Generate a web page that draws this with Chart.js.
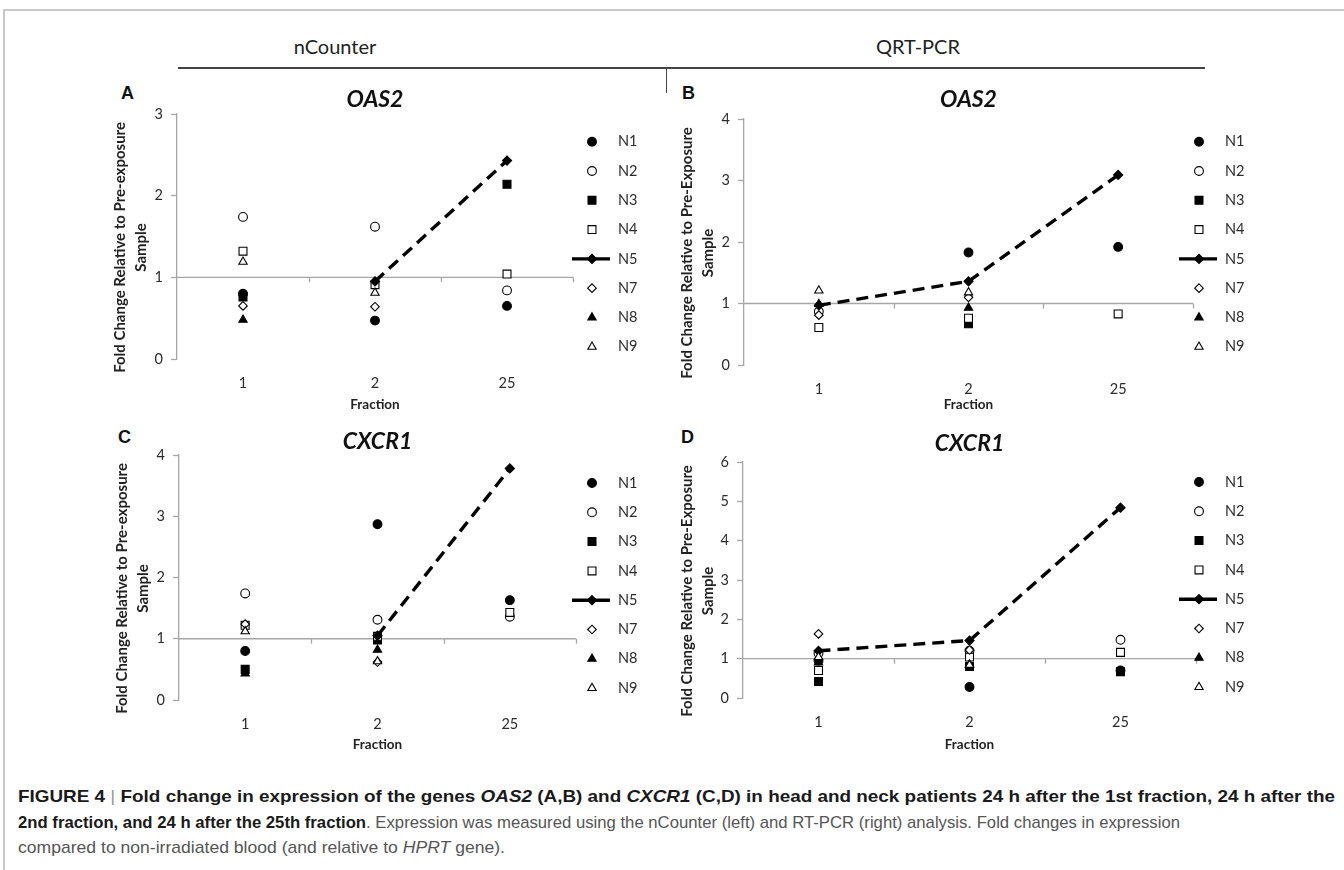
<!DOCTYPE html>
<html>
<head>
<meta charset="UTF-8">
<title>Figure 4 - OAS2 and CXCR1 fold change</title>
<script src="https://cdn.jsdelivr.net/npm/chart.js@4.4.1/dist/chart.umd.min.js"></script>
<style>
  html, body { margin: 0; padding: 0; background: #fff; }
  body { width: 1344px; height: 870px; position: relative; overflow: hidden; font-family: Lato, sans-serif; }
  .frame { position: absolute; left: 3px; top: 9px; width: 1345px; height: 870px; border-top: 2px solid #c8c8c8; border-left: 2px solid #c8c8c8; }
  .head { position: absolute; top: 34px; font-size: 20px; color: #222; transform: translateX(-50%); white-space: nowrap; }
  .rule { position: absolute; left: 178px; top: 67px; width: 1027px; height: 1.5px; background: #444; }
  .stem { position: absolute; left: 666px; top: 68px; width: 1px; height: 25px; background: #444; }
  .letter { position: absolute; font: bold 18px "Liberation Sans", Arial, sans-serif; line-height: 18px; color: #111; }
  canvas { position: absolute; }
  .caption { position: absolute; left: 18px; top: 784px; font-family: "Liberation Sans Narrow", "Liberation Sans", Arial, sans-serif; font-size: 17px; color: #555; }
  .caption div { white-space: nowrap; height: 25.5px; line-height: 25.5px; transform-origin: 0 50%; }
  .caption b { color: #1a1a1a; }
  .caption .bar { color: #999; font-weight: normal; }
</style>
</head>
<body>
<div class="frame"></div>
<div class="head" style="left:335px">nCounter</div>
<div class="head" style="left:918px">QRT-PCR</div>
<div class="rule"></div>
<div class="stem"></div>

<div class="letter" style="left:121px; top:84px">A</div>
<div class="letter" style="left:682px; top:84px">B</div>
<div class="letter" style="left:118px; top:428px">C</div>
<div class="letter" style="left:681px; top:428px">D</div>

<canvas id="panelA" width="566" height="348" style="left:100px; top:72px"></canvas>
<canvas id="panelB" width="678" height="348" style="left:666px; top:72px"></canvas>
<canvas id="panelC" width="566" height="348" style="left:100px; top:412px"></canvas>
<canvas id="panelD" width="678" height="348" style="left:666px; top:412px"></canvas>

<div class="caption">
  <div data-w="1317"><b>FIGURE 4 <span class="bar">|</span> Fold change in expression of the genes <i>OAS2</i> (A,B) and <i>CXCR1</i> (C,D) in head and neck patients 24 h after the 1st fraction, 24 h after the</b></div>
  <div data-w="1162"><b>2nd fraction, and 24 h after the 25th fraction</b>. Expression was measured using the nCounter (left) and RT-PCR (right) analysis. Fold changes in expression</div>
  <div data-w="487">compared to non-irradiated blood (and relative to <i>HPRT</i> gene).</div>
</div>

<script>
// categories and series names
const fractions = ['1', '2', '25'];
const sampleNames = ['N1', 'N2', 'N3', 'N4', 'N5', 'N7', 'N8', 'N9'];

// fold change per sample, one row per sample (N1..N9), columns = fractions 1, 2, 25
// (A) OAS2, nCounter
const oas2NCounter = [
  [0.80, 0.47, 0.65],
  [1.74, 1.62, 0.84],
  [0.76, null, 2.14],
  [1.32, 0.91, 1.04],
  [null, 0.95, 2.43],
  [0.65, 0.64, null],
  [0.48, null, null],
  [1.19, 0.81, null]
];
// (B) OAS2, QRT-PCR
const oas2Qrt = [
  [null, 1.83, 1.92],
  [0.87, null, null],
  [null, 0.67, null],
  [0.61, 0.76, 0.83],
  [0.97, 1.36, 3.09],
  [0.81, 1.10, null],
  [0.99, 0.93, null],
  [1.21, 1.18, null]
];
// (C) CXCR1, nCounter
const cxcr1NCounter = [
  [0.80, 2.87, 1.63],
  [1.74, 1.31, 1.36],
  [0.50, 0.98, null],
  [1.22, 1.04, 1.43],
  [null, 1.05, 3.78],
  [1.24, 0.62, null],
  [0.43, 0.82, null],
  [1.12, 0.63, null]
];
// (D) CXCR1, QRT-PCR
const cxcr1Qrt = [
  [0.95, 0.28, 0.70],
  [1.14, 1.20, 1.48],
  [0.42, 0.80, 0.67],
  [0.70, 1.04, 1.16],
  [1.20, 1.46, 4.84],
  [1.63, 1.22, null],
  [0.90, 0.85, null],
  [1.04, 0.84, null]
];

// y axis maxima (ticks every 1)
const yMaxA = 3, yMaxB = 4, yMaxC = 4, yMaxD = 6;

// marker look per sample
const markers = [
  { style: 'circle', fill: '#000', r: 4.4 },
  { style: 'circle', fill: '#fff', r: 4.4 },
  { style: 'rect', fill: '#000', r: 5.6 },
  { style: 'rect', fill: '#fff', r: 5.6 },
  { style: 'rectRot', fill: '#000', r: 4.6 },
  { style: 'rectRot', fill: '#fff', r: 4.3 },
  { style: 'triangle', fill: '#000', r: 4.8 },
  { style: 'triangle', fill: '#fff', r: 4.8 }
];

const axisGrey = '#a6a6a6';
const textColor = '#2b2b2b';
// Excel centres the axis title a little below the plot middle; trailing spaces push it down
const titlePad = '      ';

// Excel-style horizontal axis crossing at y = 1, with small ticks between categories
const crossAtOne = {
  id: 'crossAtOne',
  beforeDatasetsDraw(chart) {
    const { ctx, chartArea, scales: { x, y } } = chart;
    const py = y.getPixelForValue(1);
    ctx.save();
    ctx.strokeStyle = axisGrey;
    ctx.lineWidth = 1.3;
    ctx.beginPath();
    ctx.moveTo(chartArea.left, py);
    ctx.lineTo(chartArea.right, py);
    for (let i = 0; i < fractions.length; i++) {
      const px = Math.round(x.getPixelForValue(i + 0.5)) + 0.5;
      ctx.moveTo(px, py);
      ctx.lineTo(px, py + 5);
    }
    ctx.stroke();
    ctx.restore();
  }
};

// legend column to the right of the plot
const sampleLegend = {
  id: 'sampleLegend',
  afterDraw(chart, args, opts) {
    const { ctx } = chart;
    ctx.save();
    chart.data.datasets.forEach((ds, i) => {
      const cy = opts.y + i * opts.gap;
      if (ds.showLine) {
        ctx.strokeStyle = '#000';
        ctx.lineWidth = 3.4;
        ctx.beginPath();
        ctx.moveTo(opts.x - 20, cy);
        ctx.lineTo(opts.x + 18, cy);
        ctx.stroke();
      }
      ctx.fillStyle = ds.pointBackgroundColor;
      ctx.strokeStyle = ds.pointBorderColor;
      ctx.lineWidth = ds.pointBorderWidth;
      Chart.helpers.drawPoint(ctx, { pointStyle: ds.pointStyle, radius: ds.pointRadius, borderWidth: ds.pointBorderWidth, rotation: 0 }, opts.x, cy);
      ctx.fillStyle = textColor;
      ctx.font = '14.5px Lato';
      ctx.textBaseline = 'middle';
      ctx.textAlign = 'left';
      ctx.fillText(ds.label, opts.x + 26, cy);
    });
    ctx.restore();
  }
};

function buildPanel(canvasId, values, yMax, geneTitle, yTitle, g) {
  const datasets = sampleNames.map((name, i) => ({
    label: name,
    data: values[i],
    showLine: name === 'N5',
    borderColor: '#000',
    borderWidth: 3.4,
    borderDash: [12, 7],
    pointStyle: markers[i].style,
    pointRadius: markers[i].r,
    pointHoverRadius: markers[i].r,
    pointBackgroundColor: markers[i].fill,
    pointBorderColor: '#000',
    pointBorderWidth: 1.1,
    order: sampleNames.length - i
  }));

  return new Chart(document.getElementById(canvasId), {
    type: 'line',
    data: { labels: fractions, datasets: datasets },
    options: {
      responsive: false,
      animation: false,
      devicePixelRatio: 1,
      events: [],
      layout: { padding: { left: 0, right: g.W - g.cr, top: g.tc - 13.8, bottom: 0 } },
      plugins: {
        legend: { display: false },
        tooltip: { enabled: false },
        title: {
          display: true,
          text: geneTitle,
          fullSize: false,
          color: '#111',
          font: { family: 'Lato', size: 23, weight: 'bold', style: 'italic', lineHeight: 1.2 },
          padding: { top: 0, bottom: g.ct - g.tc - 13.8 }
        },
        sampleLegend: { x: g.lx, y: g.ly, gap: 29.3 }
      },
      scales: {
        x: {
          offset: true,
          border: { display: false },
          grid: { display: false, drawTicks: false },
          ticks: { color: textColor, font: { family: 'Lato', size: 14.5 }, padding: 16 },
          title: {
            display: true,
            text: 'Fraction',
            color: '#222',
            font: { family: 'Lato', size: 13.5, weight: 'bold', lineHeight: 1.2 },
            padding: { top: 0, bottom: g.H - g.fc - 8.1 }
          },
          afterFit: s => { s.height = g.H - g.cb; }
        },
        y: {
          min: 0,
          max: yMax,
          border: { display: true, color: axisGrey, width: 1.3 },
          grid: { color: 'rgba(0,0,0,0)', drawTicks: true, tickLength: 6, tickColor: axisGrey, tickWidth: 1.3 },
          ticks: { stepSize: 1, color: textColor, font: { family: 'Lato', size: 14.5 }, padding: 8 },
          title: {
            display: true,
            text: yTitle.map(t => t + titlePad),
            color: '#222',
            font: { family: 'Lato', size: 15, weight: 'bold', lineHeight: 1.35 },
            padding: { top: g.yt - 10.1, bottom: 0 }
          },
          afterFit: s => { s.width = g.cl; }
        }
      }
    },
    plugins: [crossAtOne, sampleLegend]
  });
}

function drawAll() {
  buildPanel('panelA', oas2NCounter, yMaxA, 'OAS2', ['Fold Change Relative to Pre-exposure', 'Sample'],
    { W: 566, H: 348, cl: 77, ct: 42, cr: 473, cb: 287, tc: 28, fc: 333, yt: 20.5, lx: 492, ly: 69.7 });
  buildPanel('panelB', oas2Qrt, yMaxB, 'OAS2', ['Fold Change Relative to Pre-Exposure', 'Sample'],
    { W: 678, H: 348, cl: 78, ct: 47, cr: 527, cb: 293, tc: 28, fc: 333, yt: 21.5, lx: 533, ly: 69.7 });
  buildPanel('panelC', cxcr1NCounter, yMaxC, 'CXCR1', ['Fold Change Relative to Pre-exposure', 'Sample'],
    { W: 566, H: 348, cl: 79, ct: 43, cr: 476, cb: 288, tc: 29.5, fc: 333, yt: 22.5, lx: 492, ly: 71 });
  buildPanel('panelD', cxcr1Qrt, yMaxD, 'CXCR1', ['Fold Change Relative to Pre-Exposure', 'Sample'],
    { W: 678, H: 348, cl: 77, ct: 50, cr: 530, cb: 286, tc: 32, fc: 333, yt: 21.5, lx: 533, ly: 70 });

  // squeeze caption lines to the width they take in the figure
  document.querySelectorAll('.caption div').forEach(line => {
    const target = +line.dataset.w;
    const span = document.createElement('span');
    while (line.firstChild) span.appendChild(line.firstChild);
    line.appendChild(span);
    const w = span.getBoundingClientRect().width;
    line.style.transform = 'scaleX(' + (target / w) + ')';
  });
}

if (document.fonts && document.fonts.ready) {
  document.fonts.load('bold italic 23px Lato').then(() => document.fonts.ready).then(drawAll, drawAll);
} else {
  drawAll();
}
</script>
</body>
</html>
